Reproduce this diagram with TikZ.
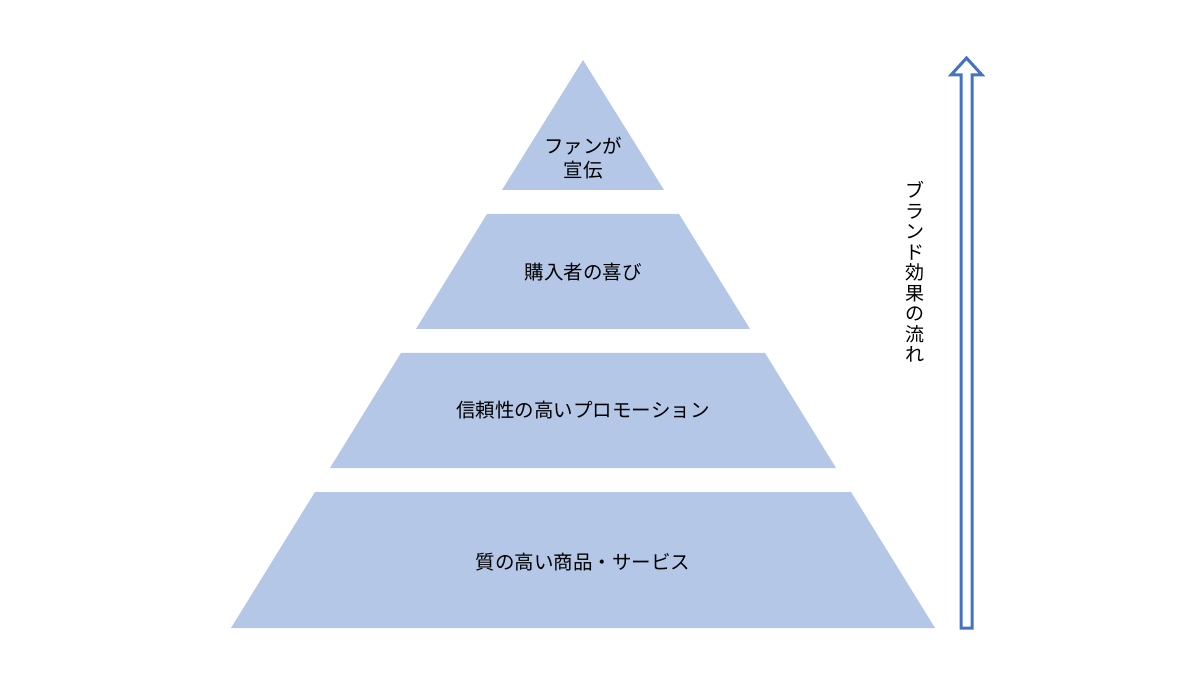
\documentclass[tikz,border=0pt]{standalone}
\usepackage{fontspec}
\setmainfont{Noto Sans CJK JP}
\definecolor{pyr}{HTML}{B4C7E7}
\definecolor{arr}{HTML}{4472C4}
\begin{document}
\begin{tikzpicture}[x=1pt,y=-1pt,
  band/.style={fill=pyr,draw=none},
  lbl/.style={font=\fontsize{19.5}{24}\selectfont,align=center,text=black}]
\useasboundingbox (0,0) rectangle (1180,684);
\fill[band] (583,60) -- (664,190) -- (502,190) -- cycle;
\fill[band] (487,214) -- (679,214) -- (750,329) -- (416,329) -- cycle;
\fill[band] (401,353) -- (765,353) -- (836,468) -- (330,468) -- cycle;
\fill[band] (315,492) -- (851,492) -- (935,628) -- (231,628) -- cycle;
\node[lbl] (t1) at (583,158) {ファンが\\宣伝};
\node[lbl] (t2) at (583,272) {購入者の喜び};
\node[lbl] (t3) at (583,410) {信頼性の高いプロモーション};
\node[lbl] (t4) at (583,562) {質の高い商品・サービス};
\draw[arr,line width=3pt,fill=white,line join=miter]
  (961,628) -- (961,75) -- (951,75) -- (966.5,58) -- (982,75) -- (972,75) -- (972,628) -- cycle;
\node[font=\fontsize{19}{20.5}\selectfont,align=center] (v) at (915,272)
  {ブ\\ラ\\ン\\ド\\効\\果\\の\\流\\れ};
\end{tikzpicture}
\end{document}
